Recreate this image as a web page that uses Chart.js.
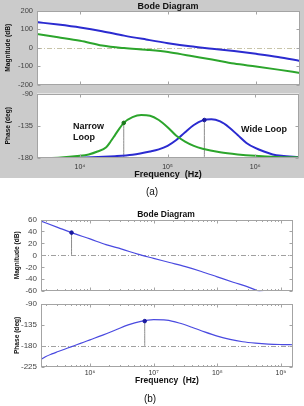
<!DOCTYPE html>
<html>
<head>
<meta charset="utf-8">
<script src="https://cdn.jsdelivr.net/npm/chart.js@4.4.0/dist/chart.umd.min.js"></script>
<style>
  body { margin: 0; width: 304px; height: 406px; position: relative; overflow: hidden; background: #fff;
         font-family: 'Liberation Sans', Arial, sans-serif; }
  canvas { position: absolute; left: 0; }
  .txt { position: absolute; white-space: nowrap; line-height: 1; color: #111; transform: translate(-50%, -50%); }
  .lft { transform: translate(0, -50%); }
  .b { font-weight: bold; }
</style>
</head>
<body>
<div style="position:absolute;left:0;top:0;width:304px;height:178px;background:#cbcbcb"></div>
<canvas id="magA" width="304" height="93" style="top:0;width:304px;height:93px"></canvas>
<canvas id="phaseA" width="304" height="95" style="top:85px;width:304px;height:95px"></canvas>
<canvas id="magB" width="304" height="95" style="top:205px;width:304px;height:95px"></canvas>
<canvas id="phaseB" width="304" height="91" style="top:295px;width:304px;height:91px"></canvas>

<div class="txt b" style="left:168px;top:6px;font-size:9px">Bode Diagram</div>
<div class="txt lft b" style="left:73px;top:126px;font-size:9px">Narrow</div>
<div class="txt lft b" style="left:73px;top:137px;font-size:9px">Loop</div>
<div class="txt lft b" style="left:241px;top:129px;font-size:9px">Wide Loop</div>
<div class="txt" style="left:152px;top:192px;font-size:10px">(a)</div>
<div class="txt b" style="left:166px;top:214px;font-size:8.5px">Bode Diagram</div>
<div class="txt" style="left:150px;top:399px;font-size:10px">(b)</div>

<script>
// ---- (a) narrow vs wide loop, x values are log10(f)
const magAExp    = [3.5, 3.75, 4, 4.25, 4.5, 4.75, 5, 5.25, 5.5, 5.75, 6, 6.25, 6.5];
const magWide    = [140, 126, 110, 90, 66, 45, 25, 8, -5, -18, -33, -50, -72];
const magNarrow  = [75, 57, 38, 12, -2, -11, -23, -44, -64, -86, -102, -119, -137];

const phNarrowExp = [3.5, 3.75, 4, 4.1, 4.2, 4.3, 4.35, 4.4, 4.45, 4.5, 4.6, 4.7, 4.8, 4.9, 5, 5.1, 5.2, 5.3, 5.4, 5.6, 5.8, 6, 6.25, 6.5];
const phNarrow    = [-180, -179.5, -177, -175, -171, -165, -157, -148, -139, -131, -123, -120, -121, -127, -137, -149, -157, -163, -167, -172, -175, -177, -178.5, -179];
const phWideExp   = [3.5, 4, 4.4, 4.6, 4.8, 4.9, 5, 5.1, 5.2, 5.3, 5.4, 5.5, 5.6, 5.7, 5.8, 5.9, 6, 6.1, 6.2, 6.3, 6.5];
const phWide      = [-180, -179.5, -177.5, -175.5, -171, -168, -163, -155, -144, -134, -127.5, -126, -129, -137, -148, -159, -166, -171, -175, -177, -179];
const narrowMark  = [4.5, -131];
const wideMark    = [5.42, -127];

// ---- (b) single loop
const magBExp = [5.23, 5.5, 5.71, 6, 6.25, 6.5, 6.75, 7, 7.25, 7.5, 7.75, 8, 8.25, 8.5, 8.65, 8.75];
const magB    = [57.5, 46.5, 38, 27.5, 18, 10.5, 2, -5, -12, -19, -27, -36, -45, -53.5, -60, -63];
const phBExp  = [5.23, 5.3, 5.4, 5.5, 5.6, 5.7, 5.8, 5.9, 6, 6.2, 6.4, 6.6, 6.8, 7, 7.2, 7.4, 7.6, 7.8, 8, 8.2, 8.4, 8.6, 8.8, 9, 9.19];
const phB     = [-209, -203, -197, -192, -187, -182, -177, -172, -167, -157, -146, -135, -127.5, -124, -125, -131, -140, -150, -159, -166, -171, -174, -176, -177, -177.5];
const magBMark = [5.71, 38];
const phBMark  = [6.86, -127];

const xRangeA = [3.51, 6.5];
const xRangeB = [5.23, 9.19];
const decadesA = [4, 5, 6];
const decadesB = [6, 7, 8, 9];

const FONT = "'Liberation Sans', Arial, sans-serif";
const BLUE = '#2b2bd0', GREEN = '#2ca52c', BLUE_B = '#4a4ae0', STEM = '#8c8c8c';
const SUP = { 4: '⁴', 5: '⁵', 6: '⁶', 7: '⁷', 8: '⁸', 9: '⁹' };

const pts = (exps, vals) => exps.map((e, i) => ({ x: Math.pow(10, e), y: vals[i] }));

const curve = (data, color, width) => ({ data, borderColor: color, borderWidth: width, pointRadius: 0, order: 2 });
const marker = (m, color) => ({ data: pts([m[0]], [m[1]]), showLine: false, pointRadius: 1.8,
    pointBackgroundColor: color, pointBorderColor: color, order: 1 });
const stem = (m, base) => ({ data: pts([m[0], m[0]], [m[1], base]), borderColor: STEM, borderWidth: 1,
    pointRadius: 0, tension: 0, order: 3 });

// white plot box, dash-dot reference line, frame with inward ticks
const framePlugin = {
    id: 'frame',
    beforeDatasetsDraw(chart, args, o) {
        const { ctx, chartArea: a } = chart;
        ctx.save();
        ctx.fillStyle = '#fff';
        ctx.fillRect(a.left, a.top, a.right - a.left, a.bottom - a.top);
        if (o.refY !== undefined) {
            const y = Math.round(chart.scales.y.getPixelForValue(o.refY)) + 0.5;
            ctx.strokeStyle = o.refColor;
            ctx.lineWidth = 1;
            ctx.setLineDash([5, 2, 1, 2]);
            ctx.beginPath(); ctx.moveTo(a.left, y); ctx.lineTo(a.right, y); ctx.stroke();
        }
        ctx.restore();
    },
    afterDatasetsDraw(chart, args, o) {
        const { ctx, chartArea: a } = chart;
        const xs = chart.scales.x, ys = chart.scales.y;
        ctx.save();
        ctx.strokeStyle = o.color;
        ctx.lineWidth = 1;
        const l = Math.round(a.left) + 0.5, r = Math.round(a.right) - 0.5;
        const t = Math.round(a.top) + 0.5, b = Math.round(a.bottom) - 0.5;
        ctx.strokeRect(l, t, r - l, b - t);
        ctx.beginPath();
        const xTick = (v, len) => {
            const x = Math.round(xs.getPixelForValue(v)) + 0.5;
            if (x <= l || x >= r) return;
            ctx.moveTo(x, t); ctx.lineTo(x, t + len);
            ctx.moveTo(x, b); ctx.lineTo(x, b - len);
        };
        o.decades.forEach((d) => xTick(Math.pow(10, d), 3));
        if (o.minor) {
            for (let d = o.decades[0] - 1; d <= o.decades[o.decades.length - 1]; d++) {
                for (let m = 2; m < 10; m++) xTick(m * Math.pow(10, d), 1.5);
            }
        }
        ys.ticks.forEach((tk) => {
            const y = Math.round(ys.getPixelForValue(tk.value)) + 0.5;
            ctx.moveTo(l, y); ctx.lineTo(l + 3, y);
            ctx.moveTo(r, y); ctx.lineTo(r - 3, y);
        });
        ctx.stroke();
        ctx.restore();
    }
};

function panel(id, p) {
    return new Chart(document.getElementById(id), {
        type: 'line',
        data: { datasets: p.datasets },
        options: {
            responsive: false,
            animation: false,
            devicePixelRatio: 1,
            layout: { padding: p.padding },
            elements: { line: { tension: 0.4, cubicInterpolationMode: 'monotone' } },
            plugins: {
                legend: { display: false },
                tooltip: { enabled: false },
                frame: { color: '#a4a4a4', refColor: p.refColor || '#b0b0b0', refY: p.refY, decades: p.decades, minor: p.minor }
            },
            scales: {
                x: {
                    type: 'logarithmic',
                    display: !!p.xTitle,
                    min: Math.pow(10, p.xRange[0]),
                    max: Math.pow(10, p.xRange[1]),
                    afterBuildTicks: (s) => { s.ticks = p.decades.map((d) => ({ value: Math.pow(10, d) })); },
                    afterFit: (s) => { s.height = p.xHeight || 0; },
                    grid: { display: false, drawTicks: false },
                    border: { display: false },
                    ticks: {
                        autoSkip: false, maxRotation: 0, padding: p.xTickPad || 4, color: '#333',
                        font: { family: FONT, size: 7 },
                        callback: (v) => '10' + SUP[Math.round(Math.log10(v))]
                    },
                    title: { display: !!p.xTitle, text: p.xTitle, color: '#111', padding: { top: 0, bottom: 0 },
                             font: { family: FONT, size: p.xTitleSize || 9, weight: 'bold' } }
                },
                y: {
                    min: p.yRange[0],
                    max: p.yRange[1],
                    afterFit: (s) => { s.width = p.yWidth; },
                    grid: { display: false, drawTicks: false },
                    border: { display: false },
                    ticks: { stepSize: p.yStep, autoSkip: false, padding: 4, color: '#444',
                             font: { family: FONT, size: p.yTickSize || 7.5 } },
                    title: { display: true, text: p.yTitle, color: '#111', padding: { top: p.yTitlePad, bottom: 0 },
                             font: { family: FONT, size: 6.6, weight: 'bold' } }
                }
            }
        },
        plugins: [framePlugin]
    });
}

panel('magA', {
    datasets: [curve(pts(magAExp, magWide), BLUE, 2), curve(pts(magAExp, magNarrow), GREEN, 2)],
    padding: { left: 0, right: 4, top: 11, bottom: 5 },
    xRange: xRangeA, decades: decadesA, yRange: [-200, 200], yStep: 100,
    yWidth: 37, yTitle: 'Magnitude (dB)', yTitlePad: 4, refY: 0, refColor: '#c8c4a8'
});

panel('phaseA', {
    datasets: [
        marker(narrowMark, '#1d7a1d'), marker(wideMark, '#1a1aa0'),
        curve(pts(phNarrowExp, phNarrow), GREEN, 2), curve(pts(phWideExp, phWide), BLUE, 2),
        stem(narrowMark, -180), stem(wideMark, -180)
    ],
    padding: { left: 0, right: 4, top: 6, bottom: 0 },
    xRange: xRangeA, decades: decadesA, yRange: [-180, -90], yStep: 45,
    yWidth: 37, yTitle: 'Phase (deg)', yTitlePad: 4,
    xTitle: 'Frequency  (Hz)', xHeight: 22, xTickPad: 4.8
});

panel('magB', {
    datasets: [marker(magBMark, '#1a1aa0'), curve(pts(magBExp, magB), BLUE_B, 1.2), stem(magBMark, 0)],
    padding: { left: 0, right: 11, top: 14.5, bottom: 5 },
    xRange: xRangeB, decades: decadesB, minor: true, yRange: [-60, 60], yStep: 20,
    yWidth: 41, yTitle: 'Magnitude (dB)', yTitlePad: 13, yTickSize: 8, refY: 0, refColor: '#a0a0a0'
});

panel('phaseB', {
    datasets: [marker(phBMark, '#1a1aa0'), curve(pts(phBExp, phB), BLUE_B, 1.2), stem(phBMark, -180)],
    padding: { left: 0, right: 11, top: 4, bottom: 0 },
    xRange: xRangeB, decades: decadesB, minor: true, yRange: [-225, -90], yStep: 45,
    yWidth: 41, yTitle: 'Phase (deg)', yTitlePad: 13, yTickSize: 8, refY: -180, refColor: '#a0a0a0',
    xTitle: 'Frequency  (Hz)', xTitleSize: 8.5, xHeight: 19, xTickPad: 2
});
</script>
</body>
</html>
